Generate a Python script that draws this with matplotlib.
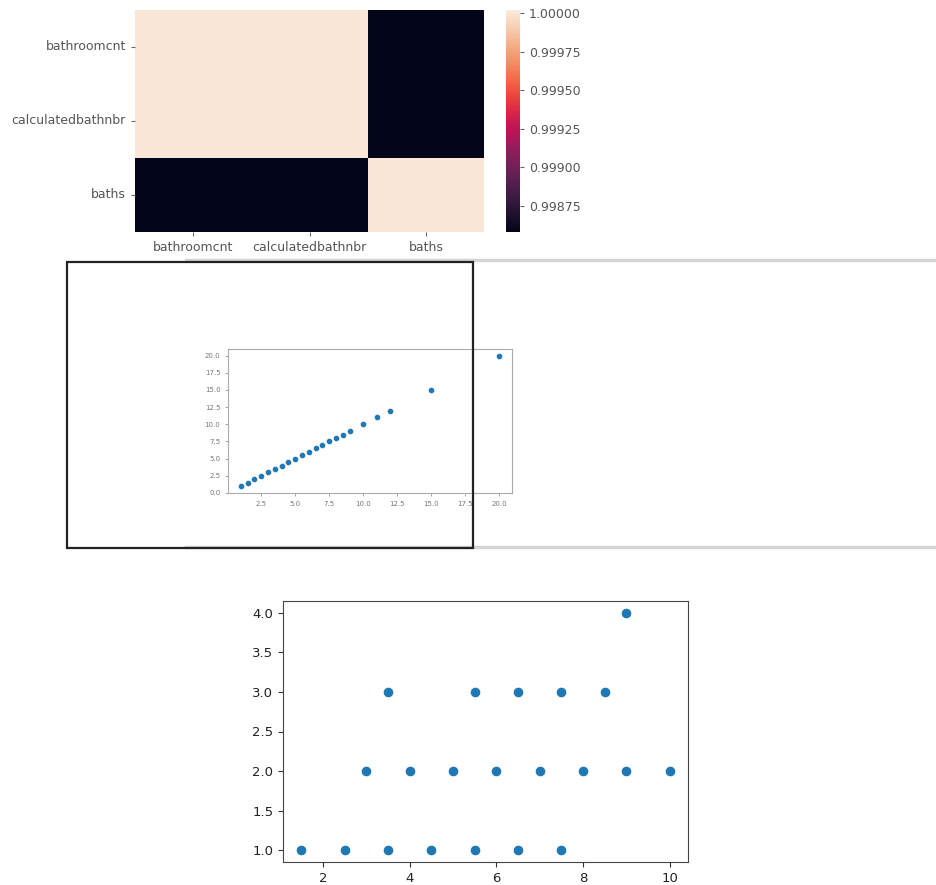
import numpy as np
import pandas as pd
import matplotlib
matplotlib.use("Agg")
import matplotlib.pyplot as plt
import seaborn as sns
from matplotlib.patches import Rectangle
from matplotlib.lines import Line2D

# correlation between the three bathroom columns
cols = ["bathroomcnt", "calculatedbathnbr", "baths"]
corr_vals = [
    [1.0, 1.0, 0.99858],
    [1.0, 1.0, 0.99858],
    [0.99858, 0.99858, 1.0],
]
cbar_ticks = [0.99875, 0.99900, 0.99925, 0.99950, 0.99975, 1.00000]

# bathroomcnt vs calculatedbathnbr (small inline plot)
calc_x = [1, 1.5, 2, 2.5, 3, 3.5, 4, 4.5, 5, 5.5, 6, 6.5, 7, 7.5, 8, 8.5, 9,
          10, 11, 12, 15, 20]
calc_y = [1, 1.5, 2, 2.5, 3, 3.5, 4, 4.5, 5, 5.5, 6, 6.5, 7, 7.5, 8, 8.5, 9,
          10, 11, 12, 15, 20]

# baths vs bedrooms
bath_x = [1.5, 2.5, 3.5, 4.5, 5.5, 6.5, 7.5,
          3, 4, 5, 6, 7, 8, 9, 10,
          3.5, 5.5, 6.5, 7.5, 8.5,
          9]
bed_y = [1, 1, 1, 1, 1, 1, 1,
         2, 2, 2, 2, 2, 2, 2, 2,
         3, 3, 3, 3, 3,
         4]

W, H = 936, 885


def px_rect(l, t, r, b):
    return [l / W, 1 - b / H, (r - l) / W, (b - t) / H]


fig = plt.figure(figsize=(W / 100, H / 100), dpi=100)
fig.patch.set_facecolor("white")

# heatmap
df = pd.DataFrame(corr_vals, index=cols, columns=cols)
ax_hm = fig.add_axes(px_rect(135, 10, 484, 232))
ax_cb = fig.add_axes(px_rect(506, 10, 520, 232))
sns.heatmap(df, ax=ax_hm, cbar_ax=ax_cb, vmax=1.00002)
ax_hm.tick_params(labelsize=9, colors="#666666", labelcolor="#555555", length=3)
ax_hm.set_yticklabels(cols, rotation=0)
ax_hm.set_xticklabels(cols, rotation=0)
ax_cb.set_yticks(cbar_ticks)
ax_cb.set_yticklabels([f"{t:.5f}" for t in cbar_ticks])
ax_cb.tick_params(labelsize=9, colors="#666666", labelcolor="#555555", length=3)

# frame around the inline plot
fig.add_artist(Line2D([186 / W, 1], [1 - 260 / H] * 2, color="#d4d4d4", lw=2.5,
                      transform=fig.transFigure, zorder=3))
fig.add_artist(Line2D([186 / W, 1], [1 - 547 / H] * 2, color="#d4d4d4", lw=2.5,
                      transform=fig.transFigure, zorder=3))

ax_small = fig.add_axes(px_rect(228, 349, 512, 493))
ax_small.scatter(calc_x, calc_y, s=20, color="#1f77b4", edgecolor="white", linewidth=0.4)
ax_small.set_xticks([2.5, 5.0, 7.5, 10.0, 12.5, 15.0, 17.5, 20.0])
ax_small.set_yticks([0.0, 2.5, 5.0, 7.5, 10.0, 12.5, 15.0, 17.5, 20.0])
ax_small.set_ylim(0, 20.95)
ax_small.tick_params(labelsize=5, colors="#999999", labelcolor="#777777", length=2, width=0.6)
for sp in ax_small.spines.values():
    sp.set_color("#aaaaaa")
    sp.set_linewidth(0.8)

fig.add_artist(Rectangle((67 / W, 1 - 548 / H), (473 - 67) / W, (548 - 262) / H,
                         transform=fig.transFigure, fill=False, edgecolor="#222222",
                         lw=1.6, zorder=4))

# bottom scatter
ax_sc = fig.add_axes(px_rect(283, 601, 688, 862))
ax_sc.scatter(bath_x, bed_y, s=60, color="#1f77b4", edgecolor="white", linewidth=0.75)
ax_sc.tick_params(labelsize=9.5, colors="#333333", labelcolor="#222222", length=3.5)
ax_sc.set_yticks([1.0, 1.5, 2.0, 2.5, 3.0, 3.5, 4.0])
for sp in ax_sc.spines.values():
    sp.set_color("#444444")

fig.savefig("out.png", dpi=100)
